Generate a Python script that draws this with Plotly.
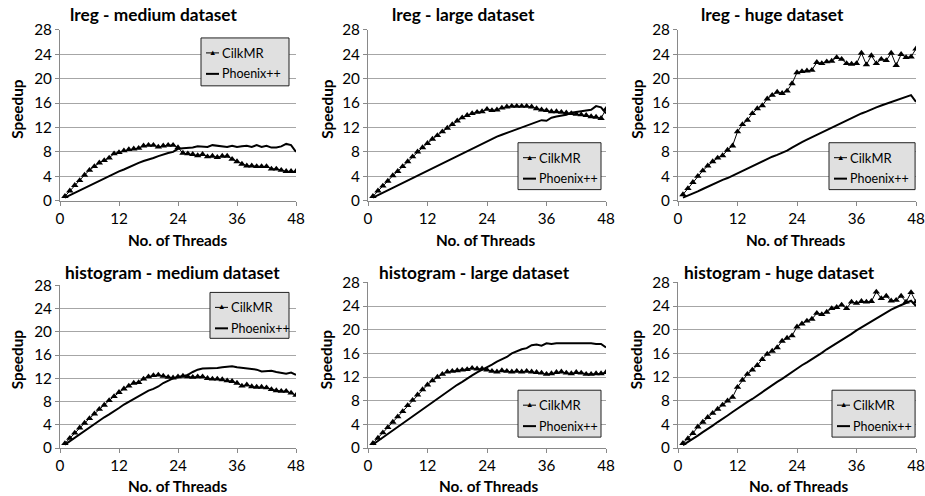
import plotly.graph_objects as go

threads = list(range(1, 49))

# lreg - medium
lreg_med_cilk = [0.7,1.6,2.5,3.3,4.2,5.0,5.6,6.2,6.6,7.0,7.7,7.9,8.2,8.4,8.5,8.6,9.0,9.1,9.1,8.8,9.0,9.1,9.1,8.7,
                 7.8,7.7,7.6,7.4,7.6,7.2,7.3,7.1,7.3,7.3,6.8,6.4,6.0,5.7,5.7,5.6,5.6,5.6,5.2,5.2,5.0,4.8,4.8,4.8]
lreg_med_phx = [0.5,0.9,1.3,1.7,2.1,2.5,2.9,3.3,3.7,4.1,4.5,4.8,5.1,5.5,5.8,6.2,6.5,6.7,7.0,7.3,7.6,7.8,8.0,8.5,
                8.6,8.6,8.7,8.9,8.8,8.8,9.1,9.0,8.9,8.8,9.0,8.8,8.9,9.0,8.8,9.1,8.8,9.0,8.7,8.7,8.9,9.3,9.1,8.0]
# lreg - large
lreg_lrg_cilk = [0.7,1.6,2.4,3.2,4.1,4.8,5.6,6.4,7.2,8.0,8.7,9.4,10.1,10.7,11.3,11.9,12.5,13.1,13.6,14.0,14.3,14.5,14.6,15.0,
                 14.8,14.9,15.2,15.4,15.5,15.5,15.5,15.5,15.4,15.1,14.9,14.8,14.6,14.6,14.5,14.4,14.3,14.2,14.1,14.0,13.8,13.7,13.5,15.0]
lreg_lrg_phx = [0.5,0.9,1.3,1.7,2.1,2.5,2.9,3.3,3.7,4.1,4.5,5.0,5.4,5.8,6.2,6.6,7.0,7.4,7.8,8.2,8.6,9.0,9.3,9.7,
                10.1,10.5,10.8,11.1,11.4,11.8,12.1,12.4,12.7,13.0,13.2,13.1,13.6,13.8,13.9,14.1,14.4,14.5,14.6,14.7,14.9,15.5,15.3,14.3]
# lreg - huge
lreg_hug_cilk = [1.0,2.0,3.0,4.0,4.9,5.7,6.4,7.0,7.4,8.3,9.0,11.3,12.5,13.2,14.3,15.1,15.6,16.7,17.3,17.8,17.6,18.0,19.2,21.0,
                 21.2,21.3,21.4,22.7,22.5,22.8,22.9,23.5,23.2,22.5,22.4,22.5,24.2,22.3,23.8,22.5,23.2,23.0,24.2,22.2,24.0,23.5,23.6,24.9]
lreg_hug_phx = [0.5,0.8,1.1,1.5,1.9,2.3,2.6,3.0,3.4,3.7,4.1,4.5,4.9,5.3,5.6,6.0,6.4,6.8,7.2,7.5,7.8,8.2,8.7,9.2,
                9.6,10.0,10.4,10.8,11.2,11.6,12.0,12.4,12.7,13.1,13.5,13.9,14.3,14.6,15.0,15.3,15.6,15.9,16.2,16.5,16.8,17.0,17.3,16.2]
# histogram - medium
hist_med_cilk = [0.8,1.7,2.6,3.5,4.3,5.1,5.9,6.7,7.4,8.2,8.9,9.6,10.2,10.7,11.2,11.3,11.9,12.3,12.5,12.6,12.4,12.2,12.1,12.3,
                 12.4,12.3,12.2,12.3,12.3,12.0,11.9,11.9,11.8,11.6,11.5,11.2,10.7,10.9,10.6,10.5,10.5,10.4,10.1,9.9,9.8,9.8,9.5,9.1]
hist_med_phx = [0.6,1.2,1.8,2.4,3.0,3.6,4.2,4.8,5.3,5.8,6.3,6.9,7.5,8.0,8.5,9.0,9.5,9.9,10.2,10.6,11.2,11.6,12.0,12.2,
                12.4,12.6,13.1,13.5,13.7,13.7,13.8,13.8,13.9,14.0,14.1,13.9,13.8,13.7,13.6,13.5,13.2,13.3,13.3,13.1,13.0,12.8,13.0,12.6]
# histogram - large
hist_lrg_cilk = [0.8,1.7,2.6,3.5,4.4,5.3,6.2,7.2,8.1,9.0,9.9,10.7,11.4,12.0,12.5,12.9,13.0,13.1,13.2,13.3,13.5,13.4,13.4,13.2,
                 13.0,12.9,13.1,13.0,12.9,13.0,12.9,13.0,12.9,12.8,12.7,12.5,12.6,12.8,12.9,12.7,12.6,12.8,12.7,12.5,12.5,12.6,12.6,12.8]
hist_lrg_phx = [0.6,1.2,1.8,2.4,3.0,3.6,4.2,4.8,5.4,6.0,6.6,7.2,7.8,8.4,9.0,9.5,10.1,10.7,11.2,11.8,12.3,12.8,13.2,13.6,
                14.1,14.6,15.0,15.4,16.0,16.4,16.7,16.9,17.4,17.5,17.3,17.7,17.6,17.7,17.7,17.8,17.8,17.8,17.7,17.8,17.7,17.6,17.6,17.0]
# histogram - huge
hist_hug_cilk = [0.8,1.6,2.5,3.6,4.4,5.2,5.9,6.6,7.3,8.0,8.6,10.3,11.5,12.5,13.2,14.0,15.0,15.9,16.4,17.0,18.1,18.6,19.0,20.5,
                 21.0,21.5,21.8,22.8,22.6,23.0,23.6,23.8,24.2,23.6,24.7,24.5,24.8,24.7,24.8,26.4,25.3,25.7,24.9,25.0,25.7,24.7,26.3,24.7]
hist_hug_phx = [0.5,1.0,1.6,2.1,2.7,3.2,3.8,4.4,4.9,5.5,6.1,6.7,7.2,7.8,8.3,8.9,9.5,10.0,10.6,11.2,11.7,12.3,12.8,13.4,
                14.0,14.5,15.0,15.6,16.1,16.7,17.2,17.8,18.3,18.8,19.3,19.9,20.4,20.9,21.4,21.9,22.5,23.0,23.4,23.8,24.2,24.6,24.9,24.0]

titles = ["lreg - medium dataset", "lreg - large dataset", "lreg - huge dataset",
          "histogram - medium dataset", "histogram - large dataset", "histogram - huge dataset"]
cilk_series = [lreg_med_cilk, lreg_lrg_cilk, lreg_hug_cilk, hist_med_cilk, hist_lrg_cilk, hist_hug_cilk]
phx_series = [lreg_med_phx, lreg_lrg_phx, lreg_hug_phx, hist_med_phx, hist_lrg_phx, hist_hug_phx]
series_names = ["CilkMR", "Phoenix++"]
y_ticks = [0, 4, 8, 12, 16, 20, 24, 28]
x_ticks = [0, 12, 24, 36, 48]

W, H = 925, 496
# the photographed page shows the figure inside this visible window (offset and span, px)
VIS_X0, VIS_W = 4, 912
VIS_Y0, VIS_H = 8, 479

# target pixel boxes in the picture: (left, right, top, bottom)
boxes = [(60, 296, 28, 199), (368, 606, 28, 199), (678, 916, 28, 199),
         (60, 296, 284, 447), (368, 606, 281, 447), (678, 916, 281, 447)]
# legend boxes in px: (left, top, right, bottom)
legend_boxes = [(201, 36, 289, 84), (518, 141, 601, 188), (829, 141, 916, 188),
                (210, 291, 289, 337), (518, 389, 601, 436), (832, 389, 916, 436)]
title_pos = [(153, 13), (463, 13), (772, 13), (172, 271), (474, 271), (779, 271)]
ylab_pos = [(17, 107), (327, 107), (637, 107), (17, 358), (326, 358), (636, 358)]
xlab_pos = [(177, 238), (485, 238), (795, 238), (177, 485), (488, 485), (798, 485)]

FONT = "Lato"
fig = go.Figure()
annotations = []
shapes = []
layout = dict(width=W, height=H, margin=dict(l=0, r=0, t=0, b=0),
              paper_bgcolor="white", plot_bgcolor="white", showlegend=False,
              font=dict(family=FONT, color="black", size=15))


def px(x):
    return min(1.0, max(0.0, (x - VIS_X0) / VIS_W))


def py(y):
    return min(1.0, max(0.0, 1 - (y - VIS_Y0) / VIS_H))


def ann(text, x, y, size, angle=0, xanchor="center", color="black"):
    annotations.append(dict(text=text, x=px(x), y=py(y), xref="paper", yref="paper",
                            showarrow=False, xanchor=xanchor, yanchor="middle",
                            textangle=angle, font=dict(size=size, family=FONT, color=color)))


for i in range(6):
    n = i + 1
    sfx = "" if n == 1 else str(n)
    fig.add_trace(go.Scatter(x=threads, y=cilk_series[i], mode="lines+markers", name=series_names[0],
                             line=dict(color="black", width=1),
                             marker=dict(symbol="triangle-up", size=6.5, color="black"),
                             xaxis="x" + sfx, yaxis="y" + sfx))
    fig.add_trace(go.Scatter(x=threads, y=phx_series[i], mode="lines", name=series_names[1],
                             line=dict(color="black", width=2),
                             xaxis="x" + sfx, yaxis="y" + sfx))
    l, r, t, b = boxes[i]
    layout["xaxis" + sfx] = dict(domain=[px(l), px(r)], range=[0, 48], tickvals=x_ticks,
                                 showgrid=False, showline=True, linecolor="#898989", linewidth=1,
                                 ticks="outside", ticklen=4, tickcolor="#898989",
                                 anchor="y" + sfx, zeroline=False, fixedrange=True,
                                 tickfont=dict(size=15.3, family=FONT))
    layout["yaxis" + sfx] = dict(domain=[py(b), py(t)], range=[0, 28], tickvals=y_ticks,
                                 showgrid=True, gridcolor="#a6a6a6", gridwidth=1,
                                 showline=True, linecolor="#898989", linewidth=1,
                                 ticks="outside", ticklen=4, tickcolor="#898989",
                                 anchor="x" + sfx, zeroline=False, fixedrange=True,
                                 tickfont=dict(size=15.3, family=FONT))
    ll, lt, lr, lb = legend_boxes[i]
    shapes.append(dict(type="rect", xref="paper", yref="paper", x0=px(ll), x1=min(px(lr), 0.999),
                       y0=py(lb), y1=py(lt), fillcolor="#e0e0e0",
                       line=dict(color="#202020", width=1), layer="above"))
    y1 = lt + 15
    y2 = lt + 36
    shapes.append(dict(type="line", xref="paper", yref="paper", x0=px(ll + 5), x1=px(ll + 18),
                       y0=py(y1), y1=py(y1), line=dict(color="black", width=1), layer="above"))
    shapes.append(dict(type="line", xref="paper", yref="paper", x0=px(ll + 5), x1=px(ll + 18),
                       y0=py(y2), y1=py(y2), line=dict(color="black", width=2), layer="above"))
    ann("▲", ll + 11.5, y1 - 0.5, 7.5)
    ann(series_names[0], ll + 19, y1, 13, xanchor="left")
    ann(series_names[1], ll + 19, y2, 12.5, xanchor="left")

    tx, ty = title_pos[i]
    ann("<b>" + titles[i] + "</b>", tx, ty, 17.3)
    yx, yy = ylab_pos[i]
    ann("<b>Speedup</b>", yx, yy, 15.3, angle=-90)
    xx, xy = xlab_pos[i]
    ann("<b>No. of Threads</b>", xx, xy, 15.3)

layout["annotations"] = annotations
layout["shapes"] = shapes
fig.update_layout(**layout)
fig.write_html("out.html")
